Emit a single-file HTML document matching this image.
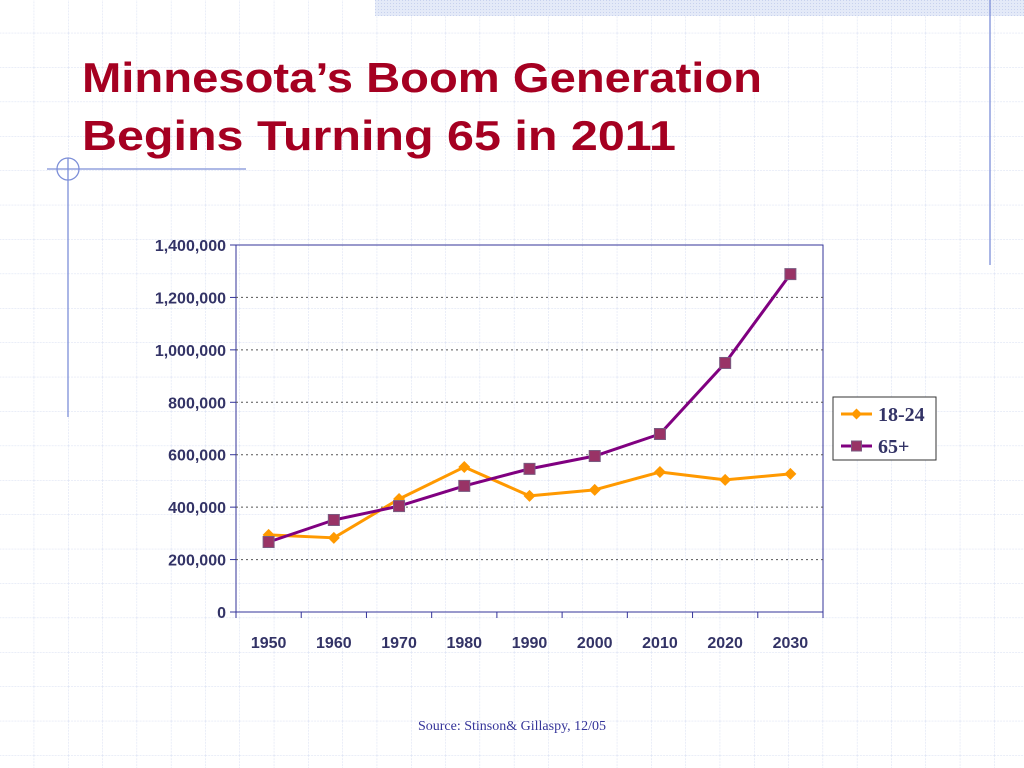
<!DOCTYPE html>
<html><head><meta charset="utf-8"><style>
html,body{margin:0;padding:0;background:#fff;}
svg{display:block;font-family:"Liberation Sans",sans-serif;}
</style></head><body>
<svg width="1024" height="768" viewBox="0 0 1024 768" xmlns="http://www.w3.org/2000/svg">
<defs>
<pattern id="grid" x="-0.6" y="32.8" width="34.3" height="34.4" patternUnits="userSpaceOnUse">
<path d="M0 0V34.4M0 0H34.3" stroke="#d6ddf2" stroke-width="1" stroke-dasharray="2 1" fill="none"/>
</pattern>
<pattern id="dots" width="3" height="3" patternUnits="userSpaceOnUse">
<rect width="3" height="3" fill="#e4eaf8"/><rect width="1" height="1" fill="#c8d2ee"/>
</pattern>
</defs>
<rect width="1024" height="768" fill="url(#grid)"/>
<rect x="375" y="0" width="649" height="16" fill="url(#dots)"/>
<line x1="990" y1="0" x2="990" y2="265" stroke="#7d8fd8" stroke-width="1.3"/>
<g stroke="#7d8fd8" stroke-width="1.3" fill="none">
<line x1="47" y1="169" x2="246" y2="169"/>
<line x1="68" y1="158" x2="68" y2="417"/>
<circle cx="68" cy="169" r="11"/>
</g>
<g fill="#a50021" font-weight="bold" font-size="42">
<text x="82" y="92" textLength="680" lengthAdjust="spacingAndGlyphs">Minnesota’s Boom Generation</text>
<text x="82" y="150" textLength="594" lengthAdjust="spacingAndGlyphs">Begins Turning 65 in 2011</text>
</g>
<g id="chart"></g>
<text x="512" y="730" text-anchor="middle" font-family="Liberation Serif,serif" font-size="14" fill="#333399">Source: Stinson&amp; Gillaspy, 12/05</text>
<g>
<rect x="833" y="397" width="103" height="63" fill="#fff" stroke="#333" stroke-width="1"/>
<g>
<line x1="841" y1="414" x2="872" y2="414" stroke="#ff9900" stroke-width="3"/>
<path d="M856.5 408.5L862 414L856.5 419.5L851 414Z" fill="#ff9900"/>
<text x="878" y="421" font-family="Liberation Serif,serif" font-weight="bold" font-size="20" fill="#333366">18-24</text>
</g>
<g>
<line x1="841" y1="446" x2="872" y2="446" stroke="#800080" stroke-width="3"/>
<rect x="851.5" y="441" width="10" height="10" fill="#993366" stroke="#7a5a80"/>
<text x="878" y="453" font-family="Liberation Serif,serif" font-weight="bold" font-size="20" fill="#333366">65+</text>
</g>
</g>
</svg>
<script>
const categories = ["1950","1960","1970","1980","1990","2000","2010","2020","2030"];
const youth = [294000, 283000, 431000, 553000, 443000, 466000, 534000, 504000, 527000];
const seniors = [267000, 351000, 404000, 481000, 546000, 595000, 679000, 950000, 1289000];
const yTicks = [0, 200000, 400000, 600000, 800000, 1000000, 1200000, 1400000];
const yTickLabels = ["0","200,000","400,000","600,000","800,000","1,000,000","1,200,000","1,400,000"];

const NS = "http://www.w3.org/2000/svg";
const g = document.getElementById("chart");
const X0 = 236, X1 = 823, Y0 = 612, Y1 = 245, YMAX = 1400000;
const bw = (X1 - X0) / categories.length;
const xs = i => X0 + bw * (i + 0.5);
const ys = v => Y0 - (v / YMAX) * (Y0 - Y1);
function mk(tag, attrs, parent) {
  const e = document.createElementNS(NS, tag);
  for (const k in attrs) e.setAttribute(k, attrs[k]);
  (parent || g).appendChild(e);
  return e;
}
let e = mk("rect", {x: X0, y: Y1, width: X1 - X0, height: Y0 - Y1, fill: "none", stroke: "#333399", "stroke-width": 1});


yTicks.forEach((t, i) => {
  const y = ys(t);
  if (t > 0 && t < YMAX) {
    const l = mk("line", {x1: X0, x2: X1, y1: y, y2: y, stroke: "#555", "stroke-dasharray": "2 3", "stroke-width": 1});
    
    
  }
  mk("line", {x1: X0 - 6, x2: X0, y1: y, y2: y, stroke: "#333399"});
  const tx = mk("text", {x: 226, y: y + 6, "text-anchor": "end", "font-size": 16, "font-weight": "bold", fill: "#333366"});
  tx.textContent = yTickLabels[i];
  
  
});
for (let i = 0; i <= categories.length; i++) {
  const x = X0 + bw * i;
  mk("line", {x1: x, x2: x, y1: Y0, y2: Y0 + 6, stroke: "#333399"});
}
categories.forEach((c, i) => {
  const tx = mk("text", {x: xs(i), y: 648, "text-anchor": "middle", "font-size": 16, "font-weight": "bold", fill: "#333366"});
  tx.textContent = c;
  
  
});
function series(vals, color, name, marker) {
  const p = mk("polyline", {points: vals.map((v, i) => xs(i) + "," + ys(v)).join(" "), fill: "none", stroke: color, "stroke-width": 3, "stroke-linejoin": "round"});
  
  
  vals.forEach((v, i) => {
    const x = xs(i), y = ys(v);
    let m;
    if (marker === "diamond") m = mk("path", {d: `M${x} ${y-6}L${x+6} ${y}L${x} ${y+6}L${x-6} ${y}Z`, fill: "#ff9900"});
    else m = mk("rect", {x: x - 5.5, y: y - 5.5, width: 11, height: 11, fill: "#993366", stroke: "#7a5a80"});
    
    
  });
}
series(youth, "#ff9900", "age-18-24", "diamond");
series(seniors, "#800080", "age-65-plus", "square");
</script>
</body></html>
